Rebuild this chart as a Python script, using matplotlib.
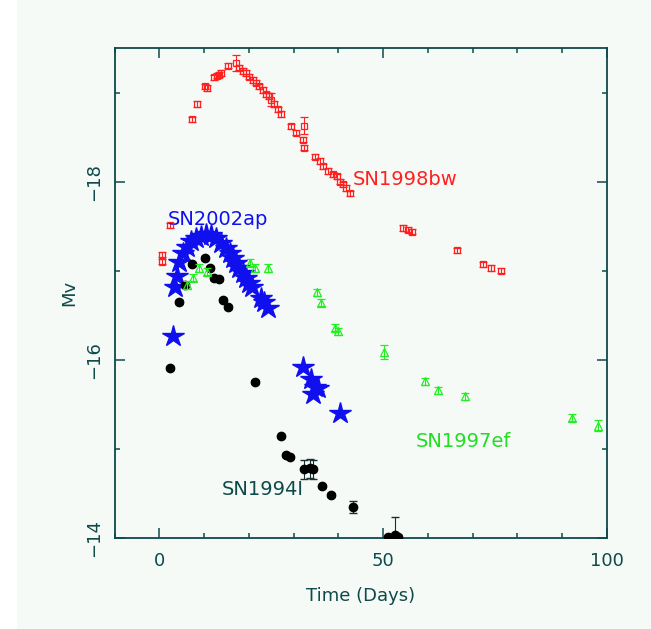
import numpy as np
import matplotlib
matplotlib.use("Agg")
import matplotlib.pyplot as plt
from matplotlib.patches import Rectangle
from matplotlib.ticker import MultipleLocator

# Curvas de luz: tiempo (dias) y magnitud absoluta V
t_98bw = [0.5, 0.6, 2.5, 7.3, 8.4, 10.3, 10.6, 12.3, 12.8, 13.4, 13.8, 15.3, 17.2,
          17.9, 18.6, 19.4, 20.1, 20.9, 21.5, 22.2, 23.1, 23.9, 24.6, 25.0, 25.7,
          26.5, 27.2, 29.5, 30.6, 32.4, 32.2, 32.3, 34.7, 35.8, 36.5, 37.7, 38.8,
          39.7, 40.3, 41.0, 41.8, 42.5, 54.4, 55.6, 56.5, 66.4, 72.2, 74.0, 76.3]
m_98bw = [-17.18, -17.10, -17.51, -18.70, -18.87, -19.07, -19.05, -19.17, -19.19,
          -19.20, -19.22, -19.30, -19.33, -19.28, -19.24, -19.22, -19.18, -19.14,
          -19.11, -19.07, -19.03, -18.98, -18.96, -18.92, -18.87, -18.81, -18.76,
          -18.62, -18.55, -18.63, -18.47, -18.38, -18.28, -18.23, -18.17, -18.12,
          -18.08, -18.06, -18.00, -17.97, -17.93, -17.87, -17.48, -17.46, -17.44,
          -17.23, -17.07, -17.03, -17.00]
e_98bw = [0.03] * 12 + [0.09] + [0.03] * 10 + [0.07] + [0.03] * 5 + [0.10] + [0.03] * 19

t_02ap = [3.0, 3.4, 3.9, 4.5, 5.2, 6.1, 7.1, 8.2, 9.3, 10.4, 11.6, 12.7, 13.8, 14.8,
          15.7, 16.4, 17.2, 17.9, 18.6, 19.4, 20.1, 20.7, 22.7, 23.5, 24.2, 32.1,
          33.9, 34.7, 34.3, 35.4, 40.3]
m_02ap = [-16.27, -16.82, -16.94, -17.10, -17.20, -17.27, -17.33, -17.37, -17.39,
          -17.41, -17.40, -17.37, -17.31, -17.26, -17.20, -17.14, -17.09, -17.03,
          -16.97, -16.92, -16.86, -16.82, -16.69, -16.65, -16.58, -15.92, -15.78,
          -15.70, -15.62, -15.68, -15.40]

t_94i = [2.5, 4.3, 5.8, 7.3, 10.3, 11.4, 12.3, 13.4, 14.2, 15.3, 21.3, 27.2, 28.3,
         29.1, 32.4, 33.6, 34.3, 36.3, 38.3, 43.2, 51.1, 52.6, 53.3]
m_94i = [-15.91, -16.65, -16.84, -17.07, -17.14, -17.03, -16.92, -16.91, -16.67,
         -16.59, -15.75, -15.14, -14.93, -14.91, -14.77, -14.78, -14.77, -14.58,
         -14.48, -14.35, -14.01, -14.03, -14.01]
e_94i = [0.02] * 14 + [0.11, 0.11, 0.11, 0.02, 0.02, 0.07, 0.02, 0.20, 0.02]

t_97ef = [6.3, 7.5, 8.8, 10.6, 20.3, 21.3, 24.2, 35.2, 36.2, 39.3, 40.0, 50.3,
          59.3, 62.3, 68.2, 92.1, 98.1]
m_97ef = [-16.84, -16.92, -17.03, -16.99, -17.09, -17.03, -17.03, -16.76, -16.64,
          -16.36, -16.32, -16.09, -15.76, -15.66, -15.59, -15.35, -15.26]
e_97ef = [0.04] * 11 + [0.08, 0.04, 0.04, 0.04, 0.04, 0.06]

tinta = "#0e4a4a"
fondo = "#f6faf7"

fig = plt.figure(figsize=(6.51, 6.29), dpi=100, facecolor=fondo)
# franja blanca en el borde izquierdo
fig.patches.append(Rectangle((0, 0), 17 / 651, 1, transform=fig.transFigure,
                             facecolor="white", edgecolor="none", zorder=0))
ax = fig.add_axes([0.1759, 0.1447, 0.7565, 0.779])
ax.set_facecolor(fondo)

ax.errorbar(t_98bw, m_98bw, yerr=e_98bw, fmt="s", ms=5, mfc="none", mec="#ff2020",
            mew=0.9, ecolor="#ff2020", elinewidth=0.8, capsize=3, zorder=3)
ax.plot(t_02ap, m_02ap, "*", ms=16, color="#1010ee", mec="#1010ee", zorder=4)
ax.errorbar(t_94i, m_94i, yerr=e_94i, fmt="o", ms=6, color="black",
            ecolor="#1a3030", elinewidth=0.8, capsize=3, zorder=5)
ax.errorbar(t_97ef, m_97ef, yerr=e_97ef, fmt="^", ms=6, mfc="none", mec="#22ee22",
            mew=0.9, ecolor="#22ee22", elinewidth=0.8, capsize=3, zorder=6)

# etiquetas de cada supernova
ax.text(55, -18.02, "SN1998bw", color="#ff2020", fontsize=14, ha="center", va="center")
ax.text(13, -17.57, "SN2002ap", color="#1010ee", fontsize=14, ha="center", va="center")
ax.text(68, -15.08, "SN1997ef", color="#22dd22", fontsize=14, ha="center", va="center")
ax.text(23, -14.54, "SN1994I", color=tinta, fontsize=14, ha="center", va="center")

ax.set_xlim(-10, 100)
ax.set_ylim(-14, -19.5)
ax.xaxis.set_major_locator(MultipleLocator(50))
ax.xaxis.set_minor_locator(MultipleLocator(10))
ax.yaxis.set_major_locator(MultipleLocator(2))
ax.yaxis.set_minor_locator(MultipleLocator(1))
ax.tick_params(which="both", direction="in", top=True, right=True, color=tinta,
               width=1.1, labelcolor=tinta, labelsize=13)
ax.tick_params(which="major", length=7)
ax.tick_params(which="minor", length=3.5)
ax.tick_params(axis="x", pad=10)
ax.tick_params(axis="y", pad=8)
for lab in ax.get_yticklabels():
    lab.set_rotation(90)
    lab.set_va("center")
for s in ax.spines.values():
    s.set_color(tinta)
    s.set_linewidth(1.3)

ax.set_xlabel("Time (Days)", fontsize=13, color=tinta, labelpad=12)
ax.set_ylabel("Mv", fontsize=13, color=tinta, labelpad=5)

fig.savefig("out.png", dpi=100, facecolor=fondo)
